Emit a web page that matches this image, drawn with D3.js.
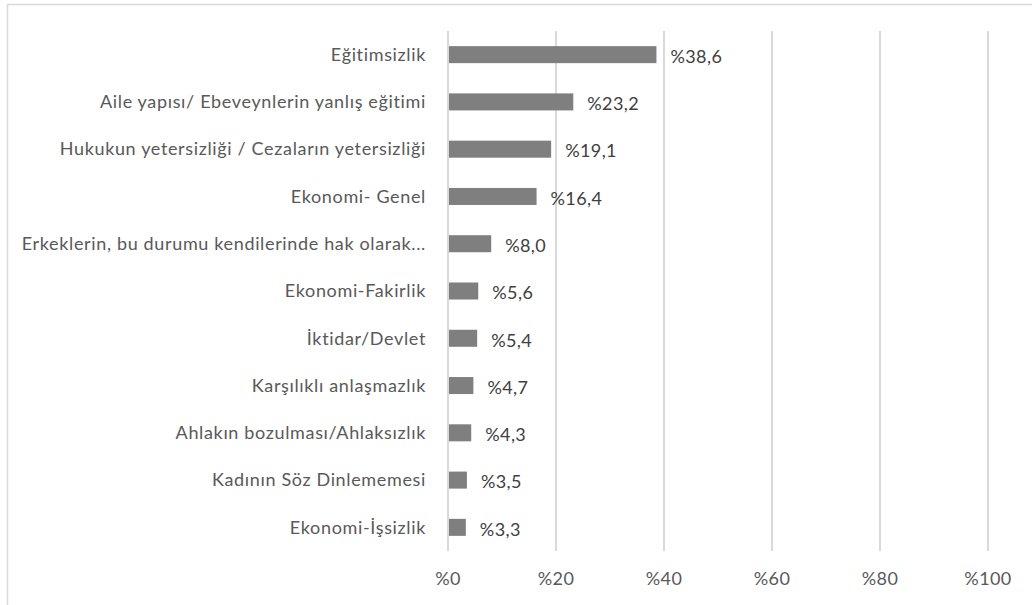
<!DOCTYPE html>
<html lang="tr">
<head>
<meta charset="utf-8">
<script src="https://d3js.org/d3.v7.min.js"></script>
<style type="text/css">
body {
  margin: 0;
  background: #fff;
}
.cat text {
  font: 18px Lato, sans-serif;
  letter-spacing: 0.65px;
  fill: #595959;
}
.tick-label {
  font: 18px Lato, sans-serif;
  letter-spacing: 0.4px;
  fill: #595959;
}
.value {
  font: 18px Lato, sans-serif;
  letter-spacing: 0.4px;
  fill: #404040;
}
.grid line {
  stroke: #d9d9d9;
  stroke-width: 2;
}
</style>
<title>Şiddetin nedenleri</title>
</head>
<body>
<script type="text/javascript">
var categories = ["Eğitimsizlik", "Aile yapısı/ Ebeveynlerin yanlış eğitimi",
  "Hukukun yetersizliği / Cezaların yetersizliği", "Ekonomi- Genel",
  "Erkeklerin, bu durumu kendilerinde hak olarak...", "Ekonomi-Fakirlik",
  "İktidar/Devlet", "Karşılıklı anlaşmazlık", "Ahlakın bozulması/Ahlaksızlık",
  "Kadının Söz Dinlememesi", "Ekonomi-İşsizlik"];
var values = [38.6, 23.2, 19.1, 16.4, 8.0, 5.6, 5.4, 4.7, 4.3, 3.5, 3.3];
var tickValues = [0, 20, 40, 60, 80, 100];

var width = 1032, height = 605;
var margin = {top: 31, right: 44, bottom: 54, left: 448};

var svg = d3.select("body").append("svg")
    .attr("width", width)
    .attr("height", height);

// chart frame
svg.append("rect")
    .attr("x", 7.5).attr("y", 4.5)
    .attr("width", width + 10).attr("height", height + 10)
    .attr("fill", "none")
    .attr("stroke", "#d9d9d9")
    .attr("stroke-width", 1.5);

var x = d3.scaleLinear().domain([0, 100]).range([margin.left, width - margin.right]);
var y = d3.scaleBand().domain(categories)
    .range([margin.top, height - margin.bottom])
    .paddingInner(0.64).paddingOuter(0.32);

var grid = svg.append("g").attr("class", "grid");
grid.selectAll("line")
    .data(tickValues)
    .enter().append("line")
    .attr("x1", function(d) { return x(d); })
    .attr("x2", function(d) { return x(d); })
    .attr("y1", margin.top)
    .attr("y2", height - margin.bottom);

svg.selectAll(".tick-label")
    .data(tickValues)
    .enter().append("text")
    .attr("class", "tick-label")
    .attr("x", function(d) { return x(d); })
    .attr("y", height - margin.bottom + 34)
    .attr("text-anchor", "middle")
    .text(function(d) { return "%" + d; });

svg.selectAll(".bar")
    .data(values)
    .enter().append("rect")
    .attr("class", "bar")
    .attr("x", x(0) + 1)
    .attr("y", function(d, i) { return y(categories[i]); })
    .attr("width", function(d) { return x(d) - x(0) - 1; })
    .attr("height", y.bandwidth())
    .attr("fill", "#7f7f7f");

svg.selectAll(".value")
    .data(values)
    .enter().append("text")
    .attr("class", "value")
    .attr("x", function(d) { return x(d) + 14; })
    .attr("y", function(d, i) { return y(categories[i]) + y.bandwidth() / 2 + 2; })
    .attr("dy", "0.35em")
    .text(function(d) { return "%" + d.toFixed(1).replace(".", ","); });

var cat = svg.append("g").attr("class", "cat");
cat.selectAll("text")
    .data(categories)
    .enter().append("text")
    .attr("x", margin.left - 22)
    .attr("y", function(d) { return y(d) + y.bandwidth() / 2; })
    .attr("dy", "0.35em")
    .attr("text-anchor", "end")
    .text(function(d) { return d; });
</script>
</body>
</html>
